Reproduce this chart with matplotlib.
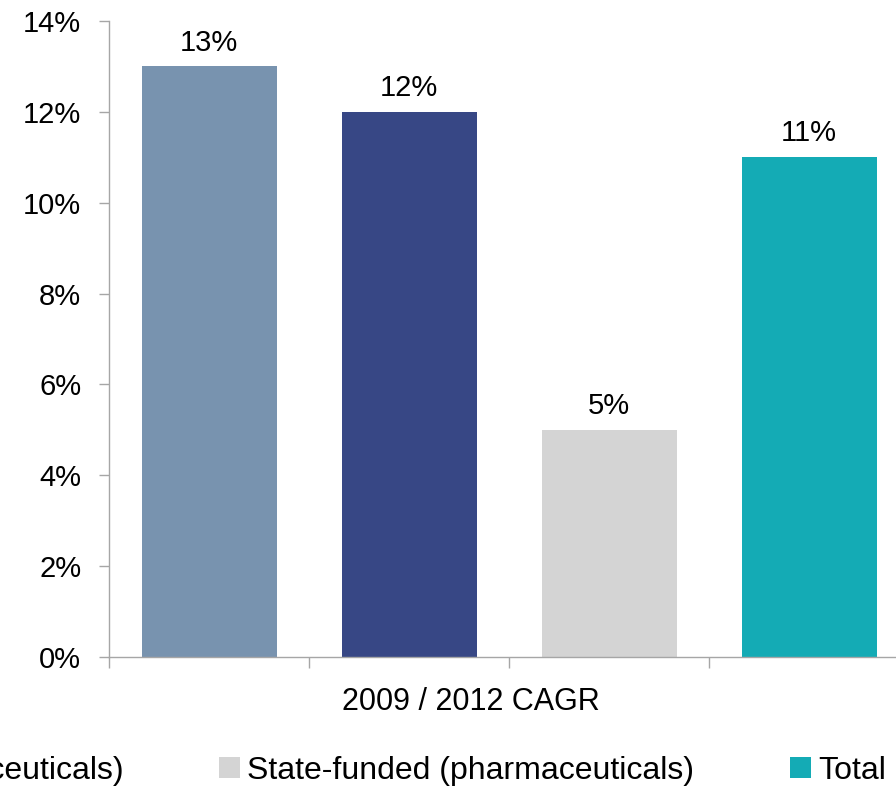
import matplotlib
matplotlib.use("Agg")
import matplotlib.pyplot as plt
from matplotlib.patches import Patch
from matplotlib.ticker import FuncFormatter

# CAGR 2009/2012 by segment
SEGMENTS = [
    "Commercial (pharmaceuticals)",
    "Out-of-pocket (pharmaceuticals)",
    "State-funded (pharmaceuticals)",
    "Total",
]
CAGR = [13, 12, 5, 11]
COLORS = ["#7893AF", "#374785", "#D4D4D4", "#14ABB5"]
Y_TICKS = [0, 2, 4, 6, 8, 10, 12, 14]
XLABEL = "2009 / 2012 CAGR"

AXIS_C = "#A6A6A6"
FS = 21

plt.rcParams["font.family"] = ["Liberation Sans", "DejaVu Sans"]

fig = plt.figure(figsize=(8.96, 7.89), dpi=100)
ax = fig.add_axes([0.1217, 0.1673, 0.8929, 0.8061])

xs = range(len(CAGR))
ax.bar(xs, CAGR, width=0.675, color=COLORS, zorder=2)
for x, v in zip(xs, CAGR):
    ax.text(x, v + 0.35, f"{v}%", ha="center", va="baseline", fontsize=FS)

ax.set_xlim(-0.5, len(CAGR) - 0.5)
ax.set_ylim(0, 14)
ax.set_yticks(Y_TICKS)
ax.yaxis.set_major_formatter(FuncFormatter(lambda v, _: f"{v:.0f}%"))
ax.set_xticks([i - 0.5 for i in range(len(CAGR) + 1)])
ax.set_xticklabels([])

for side in ("top", "right"):
    ax.spines[side].set_visible(False)
for side in ("left", "bottom"):
    ax.spines[side].set_color(AXIS_C)
    ax.spines[side].set_linewidth(1.0)
ax.tick_params(axis="y", length=7, width=1, color=AXIS_C, pad=13, labelsize=FS)
ax.tick_params(axis="x", length=8, width=1, color=AXIS_C)

ax.text(1.31, -0.083, XLABEL, transform=ax.get_xaxis_transform(),
        ha="center", va="baseline", fontsize=22)

handles = [Patch(facecolor=c, edgecolor="none") for c in COLORS]
fig.legend(handles, SEGMENTS, ncol=4, loc="center right",
           bbox_to_anchor=(0.989, 0.023), frameon=False,
           prop={"size": 23},
           handlelength=0.66, handleheight=0.66, handletextpad=0.22,
           columnspacing=3.0, borderaxespad=0, borderpad=0)

fig.savefig("out.png", dpi=100)
